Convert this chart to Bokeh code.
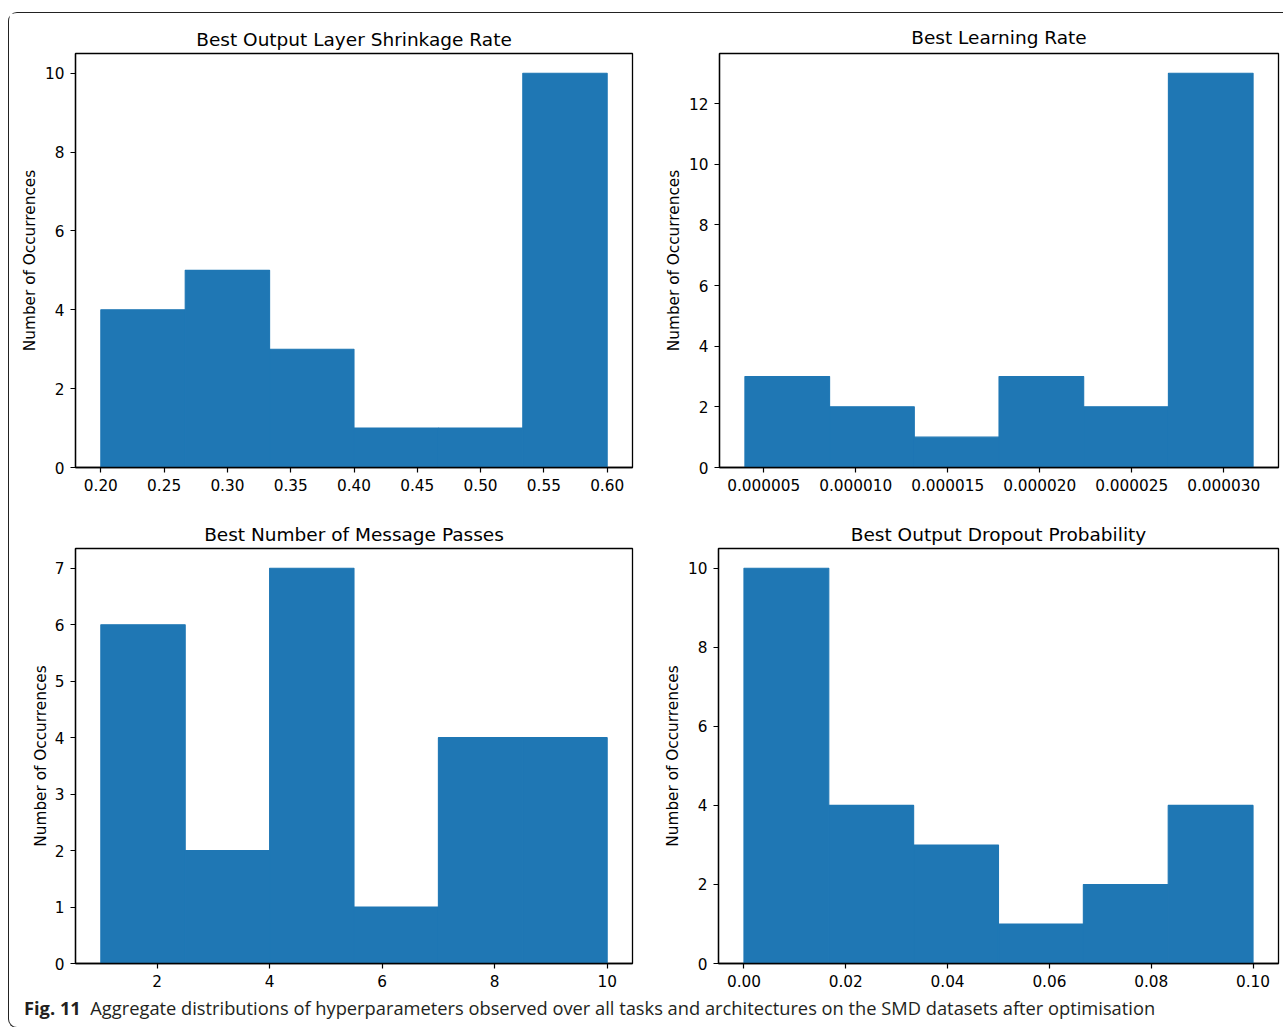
import numpy as np
from bokeh.plotting import figure
from bokeh.layouts import row, column
from bokeh.models import Div, Range1d, FixedTicker, CustomJSTickFormatter
from bokeh.embed import file_html
from bokeh.resources import INLINE

# ---- data ----
shrink_lo, shrink_hi = 0.20, 0.60
shrink_counts = [4, 5, 3, 1, 1, 10]
shrink_ticks = [0.20, 0.25, 0.30, 0.35, 0.40, 0.45, 0.50, 0.55, 0.60]

lr_lo, lr_hi = 0.00000398, 0.0000316
lr_counts = [3, 2, 1, 3, 2, 13]
lr_ticks = [0.000005, 0.000010, 0.000015, 0.000020, 0.000025, 0.000030]

mp_lo, mp_hi = 1, 10
mp_counts = [6, 2, 7, 1, 4, 4]
mp_ticks = [2, 4, 6, 8, 10]

drop_lo, drop_hi = 0.0, 0.10
drop_counts = [10, 4, 3, 1, 2, 4]
drop_ticks = [0.00, 0.02, 0.04, 0.06, 0.08, 0.10]

titles = ["Best Output Layer Shrinkage Rate", "Best Learning Rate",
          "Best Number of Message Passes", "Best Output Dropout Probability"]
y_label = "Number of Occurrences"
caption_bold = "Fig. 11"
caption_text = ("Aggregate distributions of hyperparameters observed over all tasks "
                "and architectures on the SMD datasets after optimisation")

BAR = "#1f77b4"
FONT = "DejaVu Sans"


def hist_panel(title, lo, hi, counts, xticks, yticks, fmt, width, height,
               mb_left, mb_right, mb_top, mb_bottom, label_standoff, title_standoff):
    edges = np.linspace(lo, hi, len(counts) + 1)
    pad_x = 0.05 * (hi - lo)
    ymax = max(counts) * 1.05
    p = figure(width=width, height=height, output_backend="svg",
               toolbar_location=None,
               x_range=Range1d(lo - pad_x, hi + pad_x),
               y_range=Range1d(0, ymax),
               min_border_left=mb_left, min_border_right=mb_right,
               min_border_top=mb_top, min_border_bottom=mb_bottom)
    p.quad(left=edges[:-1], right=edges[1:], bottom=0, top=counts,
           fill_color=BAR, line_color=BAR, line_width=1.1)
    p.title.text = title
    p.title.align = "center"
    p.title.text_font = FONT
    p.title.text_font_style = "normal"
    p.title.text_font_size = "18.5px"
    p.title.text_color = "#000000"
    p.title.standoff = title_standoff
    p.grid.visible = False
    p.outline_line_color = "#000000"
    p.outline_line_width = 1.3
    p.background_fill_color = "white"
    p.border_fill_color = "white"
    for ax in (p.xaxis[0], p.yaxis[0]):
        ax.axis_line_color = "#000000"
        ax.axis_line_width = 1.3
        ax.major_tick_line_color = "#000000"
        ax.major_tick_line_width = 1.2
        ax.major_tick_out = 5
        ax.major_tick_in = 0
        ax.minor_tick_line_color = None
        ax.major_label_text_font = FONT
        ax.major_label_text_font_size = "15.3px"
        ax.major_label_text_color = "#000000"
        ax.major_label_standoff = 6
    p.xaxis.ticker = FixedTicker(ticks=xticks)
    p.yaxis.ticker = FixedTicker(ticks=yticks)
    p.xaxis.formatter = CustomJSTickFormatter(code=fmt)
    p.yaxis.formatter = CustomJSTickFormatter(code="return tick.toFixed(0)")
    p.yaxis.axis_label = y_label
    p.yaxis.axis_label_text_font = FONT
    p.yaxis.axis_label_text_font_style = "normal"
    p.yaxis.axis_label_text_font_size = "15.3px"
    p.yaxis.axis_label_text_color = "#000000"
    p.yaxis.axis_label_standoff = label_standoff
    return p


p1 = hist_panel(titles[0], shrink_lo, shrink_hi, shrink_counts, shrink_ticks,
                [0, 2, 4, 6, 8, 10], "return tick.toFixed(2)",
                643, 494, 66, 20, 40, 40, 3, 7)
p2 = hist_panel(titles[1], lr_lo, lr_hi, lr_counts, lr_ticks,
                [0, 2, 4, 6, 8, 10, 12], "return tick.toFixed(6)",
                631, 494, 67, 5, 38, 39, 3, 12)
p3 = hist_panel(titles[2], mp_lo, mp_hi, mp_counts, mp_ticks,
                [0, 1, 2, 3, 4, 5, 6, 7], "return tick.toFixed(0)",
                643, 486, 66, 20, 40, 30, 2, 7)
p4 = hist_panel(titles[3], drop_lo, drop_hi, drop_counts, drop_ticks,
                [0, 2, 4, 6, 8, 10], "return tick.toFixed(2)",
                631, 486, 66, 5, 41, 30, 3, 7)

cap = Div(text=f"<span style='font-weight:bold'>{caption_bold}</span>&nbsp;&nbsp;{caption_text}",
          width=1274, height=24,
          styles={"font-family": "Open Sans", "font-size": "18.3px", "color": "#231f20",
                  "padding-left": "10px", "white-space": "nowrap", "line-height": "20px"})

layout = column(row(p1, p2, spacing=0), row(p3, p4, spacing=0), cap, spacing=0,
                styles={"border-left": "1px solid #222", "border-top": "1px solid #222",
                        "border-bottom": "1px solid #222",
                        "border-top-left-radius": "9px", "border-bottom-left-radius": "9px",
                        "margin-top": "12px", "margin-left": "8px"})

open("out.html", "w").write(file_html(layout, INLINE))
